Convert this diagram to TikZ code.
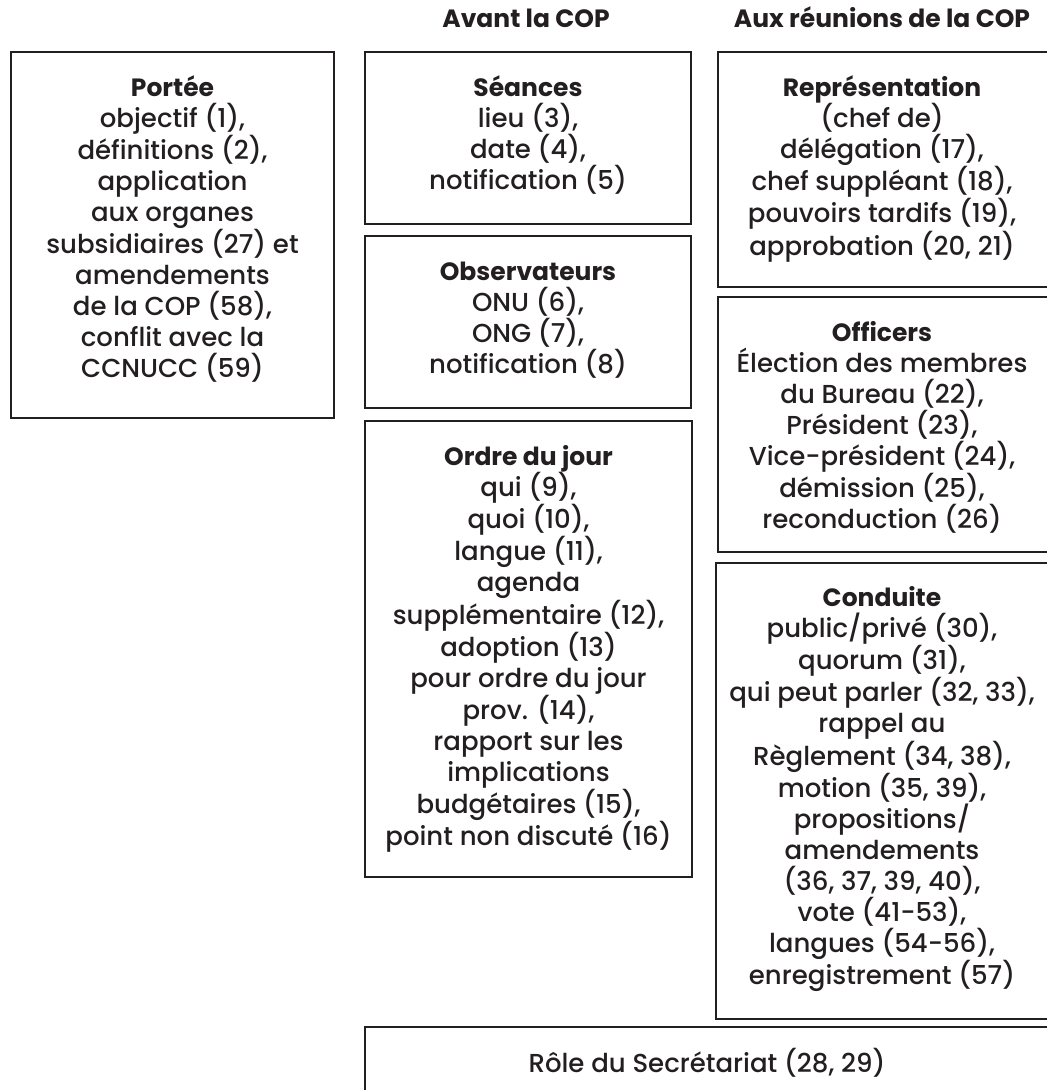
\documentclass[tikz,border=0pt]{standalone}
\usepackage{fontspec}
\setmainfont{Poppins}[UprightFont={* Medium}, BoldFont={* Bold}]
\definecolor{ink}{HTML}{231F20}
\newcommand\boxhead[1]{{\bfseries\fontsize{25}{31}\selectfont\strut #1}\\[-4pt]}
\tikzset{
  frame/.style={draw=ink, line width=2pt, anchor=north west, inner sep=0pt, outer sep=0pt},
  body/.style={align=center, inner sep=0pt, text=ink, anchor=north,
               font=\fontsize{26}{31}\selectfont},
  colhead/.style={inner sep=0pt, text=ink, anchor=base,
                  font=\bfseries\fontsize{25}{31}\selectfont},
}
\begin{document}
\begin{tikzpicture}[x=1pt, y=-1pt]
\useasboundingbox (0,0) rectangle (1047,1090);
\clip (0,0) rectangle (1047,1090);

% column headings
\node[colhead] (avant) at (526,27) {Avant la COP};
\node[colhead] (aux)   at (882,27) {Aux réunions de la COP};

% frames
\node[frame, minimum width=323pt, minimum height=366pt] (portee)   at (11,52)  {};
\node[frame, minimum width=326pt, minimum height=172pt] (seances)  at (365,52) {};
\node[frame, minimum width=326pt, minimum height=172pt] (observ)   at (365,236) {};
\node[frame, minimum width=327pt, minimum height=456pt] (ordre)    at (365,421) {};
\node[frame, minimum width=334pt, minimum height=235pt] (repres)   at (718,52) {};
\node[frame, minimum width=334pt, minimum height=255pt] (officers) at (718,297) {};
\node[frame, minimum width=336pt, minimum height=456pt] (conduite) at (716,563) {};
\node[frame, minimum width=684pt, minimum height=72pt, text=ink,
      font=\fontsize{26}{31}\selectfont] (secr) at (365,1027) {Rôle du Secrétariat (28, 29)};

% contents
\node[body] (portee-t) at ([yshift=-23pt]portee.north)
  {\boxhead{Portée}objectif (1),\\définitions (2),\\application\\aux organes\\subsidiaires (27) et\\amendements\\de la COP (58),\\conflit avec la\\CCNUCC (59)};
\node[body] (seances-t) at ([yshift=-23pt]seances.north)
  {\boxhead{Séances}lieu (3),\\date (4),\\notification (5)};
\node[body] (observ-t) at ([yshift=-23pt]observ.north)
  {\boxhead{Observateurs}ONU (6),\\ONG (7),\\notification (8)};
\node[body] (ordre-t) at ([yshift=-23pt]ordre.north)
  {\boxhead{Ordre du jour}qui (9),\\quoi (10),\\langue (11),\\agenda\\supplémentaire (12),\\adoption (13)\\pour ordre du jour\\prov. (14),\\rapport sur les\\implications\\budgétaires (15),\\point non discuté (16)};
\node[body] (repres-t) at (882,75)
  {\boxhead{Représentation}(chef de)\\délégation (17),\\chef suppléant (18),\\pouvoirs tardifs (19),\\approbation (20, 21)};
\node[body] (officers-t) at (882,320)
  {\boxhead{Officers}Élection des membres\\du Bureau (22),\\Président (23),\\Vice-président (24),\\démission (25),\\reconduction (26)};
\node[body] (conduite-t) at (882,585)
  {\boxhead{Conduite}public/privé (30),\\quorum (31),\\qui peut parler (32, 33),\\rappel au\\Règlement (34, 38),\\motion (35, 39),\\propositions/\\amendements\\(36, 37, 39, 40),\\vote (41-53),\\langues (54-56),\\enregistrement (57)};
\end{tikzpicture}
\end{document}
